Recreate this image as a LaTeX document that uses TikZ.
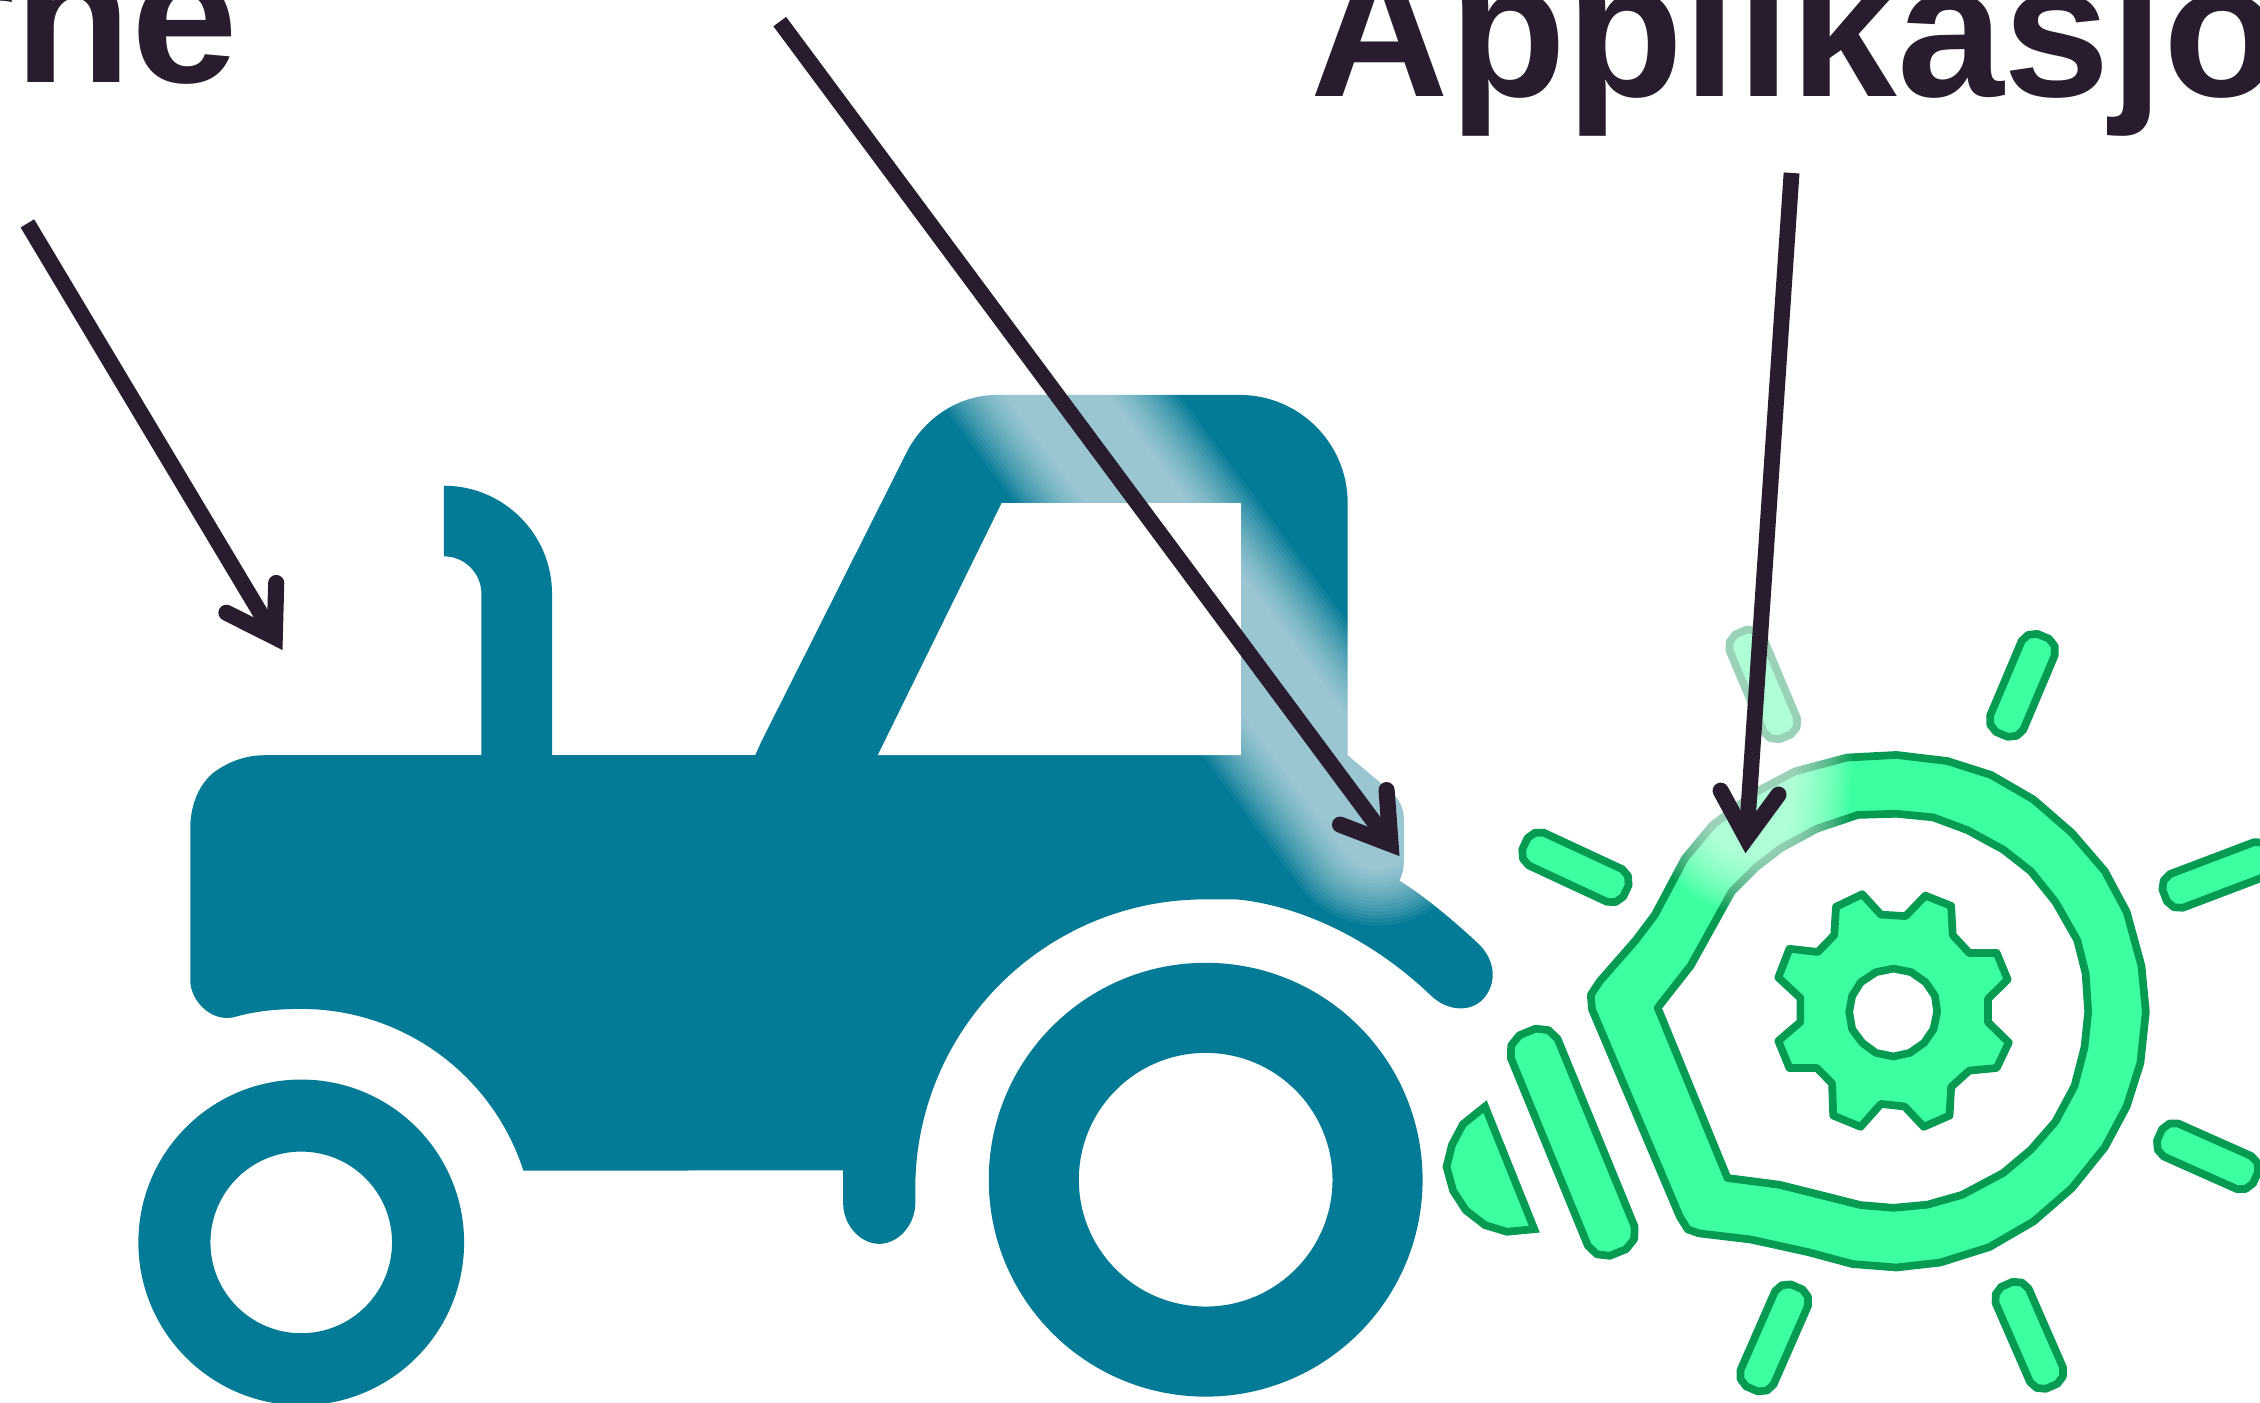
\documentclass[tikz,border=0pt]{standalone}
\usepackage{fontspec}
\setmainfont{Liberation Sans}
\usepackage{xcolor}
\usetikzlibrary{arrows.meta}
\definecolor{tractorteal}{HTML}{037A96}
\definecolor{gearfill}{HTML}{3CFFA2}
\definecolor{gearline}{HTML}{069A53}
\definecolor{inkdark}{HTML}{281C2E}

\begin{document}
\begin{tikzpicture}[
  x=0.014413cm, y=-0.014413cm,
  body/.style={fill=tractorteal},
  gearshape/.style={draw=gearline, fill=gearfill, line width=2.2pt, line join=round},
  pointer/.style={draw=inkdark, line width=4.5pt,
    -{Straight Barb[length=13pt, width=16.5pt, line width=4.6pt, line cap=round, line join=miter]}},
  heading/.style={font=\bfseries\fontsize{54.6pt}{60pt}\selectfont, text=inkdark, inner sep=0pt}
]
\useasboundingbox (0,0) rectangle (1568,973);

% tractor
\fill[body] (132,680) .. controls (132,695) and (148,711) .. (165,705)
  .. controls (180,701) and (195,700) .. (209,700)
  arc (-90:-17.9:162) -- (585,812) -- (585,835)
  .. controls (585,850) and (597,863) .. (610,863)
  .. controls (623,863) and (635,850) .. (635,835) -- (635,825)
  arc (180:270:201) -- (858,624)
  .. controls (900,628) and (950,650) .. (992,690)
  .. controls (1005,703) and (1022,702) .. (1030,692)
  .. controls (1038,682) and (1038,668) .. (1027,656)
  .. controls (1010,640) and (990,623) .. (971,611)
  .. controls (973,606) and (974,603) .. (974,598) -- (974,568)
  .. controls (974,558) and (968,551) .. (960,545) -- (935,524) -- (935,349)
  arc (0:-90:75) -- (692,274)
  .. controls (665,274) and (642,290) .. (630,312) -- (528,515) -- (524,524)
  -- (383,524) -- (383,412) arc (0:-90:75) -- (308,386) arc (-90:0:26) -- (334,524)
  -- (183,524) .. controls (170,524) and (157,529) .. (147,537)
  .. controls (137,546) and (132,560) .. (132,575) -- cycle;
\fill[white] (695,349) -- (861,349) -- (861,524) -- (609,524) -- cycle;
\fill[body, even odd rule] (209,862) circle (113) (209,862) circle (63);
\fill[body, even odd rule] (836.5,818.5) circle (150.5) (836.5,818.5) circle (88);

% ring round the gear
\path[gearshape, even odd rule]
  (1315.7,523.8) -- (1351,528) -- (1381.5,537.7) -- (1410.8,554.7) -- (1437.4,577.8)
  -- (1460.3,604.4) -- (1475.5,632.8) -- (1485.7,670) -- (1488.8,702) -- (1485,737.5)
  -- (1475.5,767.6) -- (1460.3,796) -- (1437.4,824.4) -- (1410.8,847.5) -- (1380.3,865.2)
  -- (1346,876) -- (1315.7,879.4) -- (1285.2,877) -- (1254.8,868.8) -- (1214.8,860)
  -- (1178.7,855.7) -- (1171,853) -- (1165.4,844) -- (1104.5,700.2) -- (1103.7,690.3)
  -- (1110,680.7) -- (1134.9,652.3) -- (1148.2,634.6) -- (1169,595.5) -- (1188.2,572.5)
  -- (1218.6,549.4) -- (1245.3,535.2) -- (1281.4,525.6) -- cycle
  (1315.7,564.6) -- (1341.2,567.1) -- (1365.1,576) -- (1389.9,589.5) -- (1408.9,604.4)
  -- (1426,625.7) -- (1441.2,652.3) -- (1447,675.4) -- (1448.8,702) -- (1446.2,726.8)
  -- (1439.3,753.5) -- (1426,778.3) -- (1408.9,797.8) -- (1389.9,813.8) -- (1361.3,829)
  -- (1337.3,835.8) -- (1313.8,838) -- (1290.9,836.1) -- (1234.6,822) -- (1198.5,817.3)
  -- (1150.1,699.2) -- (1173,670) -- (1201.5,618.6) -- (1218.6,601.6) -- (1235.7,588.4)
  -- (1260.5,575) -- (1289,565.4) -- cycle;

% gear with its hole
\path[gearshape, even odd rule]
  (1292,620.4) -- (1305,634.6) -- (1322.1,635.6) -- (1335.8,621.4) -- (1353.7,628.5)
  -- (1354.8,648.8) -- (1366.3,661.2) -- (1385.3,661.2) -- (1392.9,679.6) -- (1379.2,693.1)
  -- (1379.2,709.1) -- (1393.7,723.3) -- (1385.3,741) -- (1366.3,742.8) -- (1353.7,754.2)
  -- (1352.6,774) -- (1334.7,781.8) -- (1321.4,767.7) -- (1305,765.9) -- (1290.9,781.8)
  -- (1271.9,774) -- (1271.1,751.7) -- (1260.5,741) -- (1241.5,741) -- (1233.8,722.2)
  -- (1249.1,709.1) -- (1249.1,692.4) -- (1233.8,678.2) -- (1241.5,658.3) -- (1261.2,660.5)
  -- (1272.6,648.8) -- (1273.8,629.2) -- cycle
  (1313.8,672) -- (1326,674.5) -- (1336,681.5) -- (1342.5,691) -- (1344,702) -- (1341.5,714)
  -- (1335,723.5) -- (1325,730.5) -- (1313.8,733) -- (1301.5,730.5) -- (1292,723.5)
  -- (1285,714) -- (1283,702) -- (1285,691) -- (1291,681.5) -- (1301.5,674.5) -- cycle;

% rays and the long bar
\foreach \ax/\ay/\bx/\by/\h in {1412.7/453/1393.7/498/12.5, 1069.3/590.7/1116.8/612.8/12.5,
    1513.5/616.8/1564.9/597.3/12.5, 1509.7/792.5/1553.5/812/12.5, 1241.5/904.3/1220.5/952.2/12.5,
    1397.5/902.5/1418.4/950.4/12.5, 1212.9/450/1233.8/499.7/12.5, 1066.4/732.2/1115.9/852.8/17.5}{
  \pgfmathsetmacro{\ang}{atan2(\by-\ay,\bx-\ax)}
  \pgfmathsetmacro{\len}{veclen(\bx-\ax,\by-\ay)}
  \begin{scope}[shift={(\ax,\ay)}, rotate=-\ang]
    \path[gearshape] (-\h,-.35*\h) -- (-.75*\h,-.8*\h) -- (-.3*\h,-\h)
      -- (\len+.3*\h,-\h) -- (\len+.75*\h,-.8*\h) -- (\len+\h,-.35*\h)
      -- (\len+\h,.35*\h) -- (\len+.75*\h,.8*\h) -- (\len+.3*\h,\h)
      -- (-.3*\h,\h) -- (-.75*\h,.8*\h) -- (-\h,.35*\h) -- cycle;
  \end{scope}
}
% half disc
\path[gearshape, line join=miter] (1030.3,767.7) -- (1064.5,852.8) -- (1045.5,854.6) -- (1030.3,850)
  -- (1017,839.7) -- (1008.2,826.2) -- (1003.6,809.5) -- (1007.4,794.3) -- (1015,780) -- cycle;

\coordinate (tail1) at (19,155);
\coordinate (tip1) at (196,451);
\coordinate (tail2) at (541,15);
\coordinate (tip2) at (971,594);
\coordinate (halo2) at (956,574);
\coordinate (tail3) at (1243,120);
\coordinate (tip3) at (1211,592);
\coordinate (halo3) at (1214,565);

% pale halo round the two long pointers
\foreach \w in {24,26,...,56}{
  \draw[white, opacity=0.055, line width=\w pt, line cap=round] (tail2) -- (halo2);
  \draw[white, opacity=0.055, line width=\w pt, line cap=round] (tail3) -- (halo3);
}

\draw[pointer] (tail1) -- (tip1);
\draw[pointer] (tail2) -- (tip2);
\draw[pointer] (tail3) -- (tip3);

\node[heading, anchor=base east] (headleft) at (166,57) {rne};
\node[heading, anchor=base west] (headright) at (909,67) {Applikasjo};
\end{tikzpicture}
\end{document}
